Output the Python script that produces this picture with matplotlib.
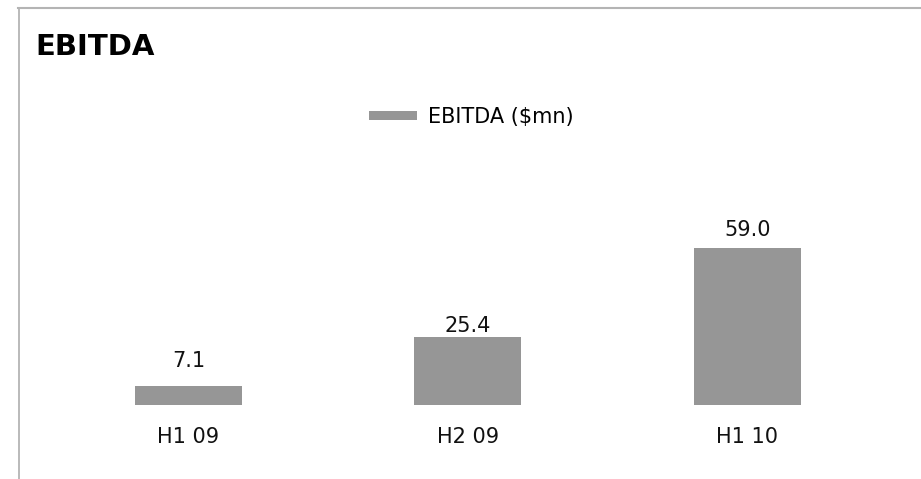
import matplotlib
matplotlib.use("Agg")
import matplotlib.pyplot as plt
from matplotlib.lines import Line2D

plt.rcParams['font.family'] = ['DejaVu Sans']

periods = ["H1 09", "H2 09", "H1 10"]
ebitda = [7.1, 25.4, 59.0]
series_name = "EBITDA ($mn)"

bar_color = "#969696"
frame_color = "#b4b4b4"
# per-bar distance (points) between bar top and its value label
label_gap = [11, 1, 6]

fig = plt.figure(figsize=(9.21, 4.79), dpi=100)
ax = fig.add_axes([0.0529, 0.1545, 0.9104, 0.3887])

bars = ax.bar(range(len(periods)), ebitda, width=0.383, color=bar_color, label=series_name)
ax.set_xlim(-0.5, len(periods) - 0.5)
ax.set_ylim(0, 70)

for i, v in enumerate(ebitda):
    ax.annotate("%.1f" % v, (i, v), xytext=(0, label_gap[i]), textcoords="offset points",
                ha="center", va="bottom", fontsize=15, color="#111111", clip_on=False)

ax.set_xticks(range(len(periods)))
ax.set_xticklabels(periods, fontsize=15, color="#111111")
ax.tick_params(axis="x", length=0, pad=16)
ax.set_yticks([])
for s in ax.spines.values():
    s.set_visible(False)

# title and legend
fig.text(35 / 921, 1 - 47 / 479, "EBITDA", fontsize=21, fontweight="bold", ha="left", va="center")
fig.legend(handles=[bars], labels=[series_name], loc="center left",
           bbox_to_anchor=(369 / 921, 1 - 117 / 479), frameon=False, fontsize=15,
           handlelength=2.3, handleheight=0.34, handletextpad=0.53,
           borderpad=0, borderaxespad=0)

# grey frame on the left and top edges
fig.add_artist(Line2D([18.5 / 921, 18.5 / 921], [0, 1 - 7.5 / 479], transform=fig.transFigure,
                      color=frame_color, lw=1.3))
fig.add_artist(Line2D([18 / 921, 1], [1 - 7.5 / 479, 1 - 7.5 / 479], transform=fig.transFigure,
                      color=frame_color, lw=1.5))

fig.savefig("out.png", dpi=100)
